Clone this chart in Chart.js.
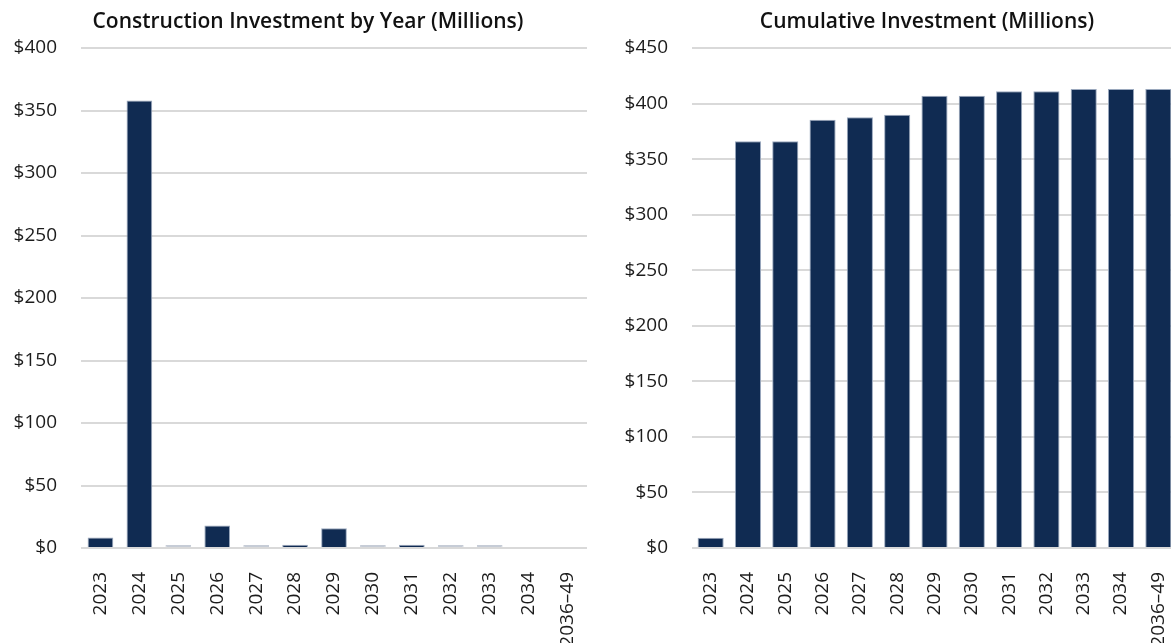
<!DOCTYPE html>
<html>
<head>
<meta charset="utf-8">
<script src="https://cdn.jsdelivr.net/npm/chart.js@4.4.1/dist/chart.umd.min.js"></script>
<style>
    html, body { margin: 0; padding: 0; background: #fff; }
    #page { position: relative; width: 1171px; height: 643px; overflow: hidden; }
    .box { position: absolute; top: 0; height: 643px; }
    #leftBox { left: 0; width: 616px; }
    #rightBox { left: 600px; width: 654px; }
</style>
</head>
<body>
<div id="page">
    <div class="box" id="leftBox"><canvas id="yearChart"></canvas></div>
    <div class="box" id="rightBox"><canvas id="cumulChart"></canvas></div>
</div>
<script>
// Données (millions de dollars)
const years = ['2023', '2024', '2025', '2026', '2027', '2028', '2029', '2030', '2031', '2032', '2033', '2034', '2036–49'];
const yearlyInvestment = [8.5, 358, 0, 18, 0, 2.7, 15.8, 0, 2.7, 0, 0, null, null];
const cumulativeInvestment = [9.2, 366, 366, 385.5, 387.7, 390, 407, 407, 411, 411, 413, 413, 413];
const yearlyTicks = [0, 50, 100, 150, 200, 250, 300, 350, 400];
const cumulativeTicks = [0, 50, 100, 150, 200, 250, 300, 350, 400, 450];

const navy = '#102b52';
const zeroGray = '#c6ccd6';
const edge = '#9aa8bd';
const gridGray = '#d9d9d9';
const font = 'Open Sans';

Chart.defaults.font.family = font;
Chart.defaults.color = '#1c1c1c';

// Construit les options communes d'un graphique
function buildOptions(title, ticks, leftWidth, rightWidth) {
    return {
        responsive: true,
        maintainAspectRatio: false,
        animation: false,
        layout: { padding: 0 },
        plugins: {
            legend: { display: false },
            tooltip: { enabled: false },
            title: {
                display: true,
                text: title,
                font: { family: font, size: 21, weight: '600', lineHeight: 1.2 },
                color: '#111',
                padding: { top: 9, bottom: 13.8 }
            }
        },
        scales: {
            x: {
                grid: { display: false },
                border: { display: false },
                ticks: {
                    font: { size: 19 },
                    minRotation: 90,
                    maxRotation: 90,
                    autoSkip: false,
                    padding: 16
                },
                afterFit: function(axis) { axis.height = 95; }
            },
            y: {
                min: ticks[0],
                max: ticks[ticks.length - 1],
                grid: { color: gridGray, lineWidth: 2, drawTicks: false },
                border: { display: false },
                afterBuildTicks: function(axis) {
                    axis.ticks = ticks.map(v => ({ value: v }));
                },
                ticks: {
                    font: { size: 19 },
                    padding: 24,
                    callback: v => '$' + v
                },
                afterFit: function(axis) { axis.width = leftWidth; }
            },
            yRight: {
                position: 'right',
                grid: { display: false },
                border: { display: false },
                ticks: { display: false },
                afterFit: function(axis) { axis.width = rightWidth; }
            }
        }
    };
}

// Graphique annuel
new Chart(document.getElementById('yearChart'), {
    type: 'bar',
    data: {
        labels: years,
        datasets: [{
            data: yearlyInvestment,
            backgroundColor: ctx => ctx.raw === 0 ? zeroGray : navy,
            borderColor: ctx => ctx.raw === 0 ? zeroGray : edge,
            borderWidth: 1,
            minBarLength: 3,
            categoryPercentage: 1,
            barPercentage: 0.66
        }]
    },
    options: buildOptions('Construction Investment by Year (Millions)', yearlyTicks, 81, 29)
});

// Graphique cumulatif
new Chart(document.getElementById('cumulChart'), {
    type: 'bar',
    data: {
        labels: years,
        datasets: [{
            data: cumulativeInvestment,
            backgroundColor: navy,
            borderColor: edge,
            borderWidth: 1,
            categoryPercentage: 1,
            barPercentage: 0.7
        }]
    },
    options: buildOptions('Cumulative Investment (Millions)', cumulativeTicks, 92, 77)
});
</script>
</body>
</html>
